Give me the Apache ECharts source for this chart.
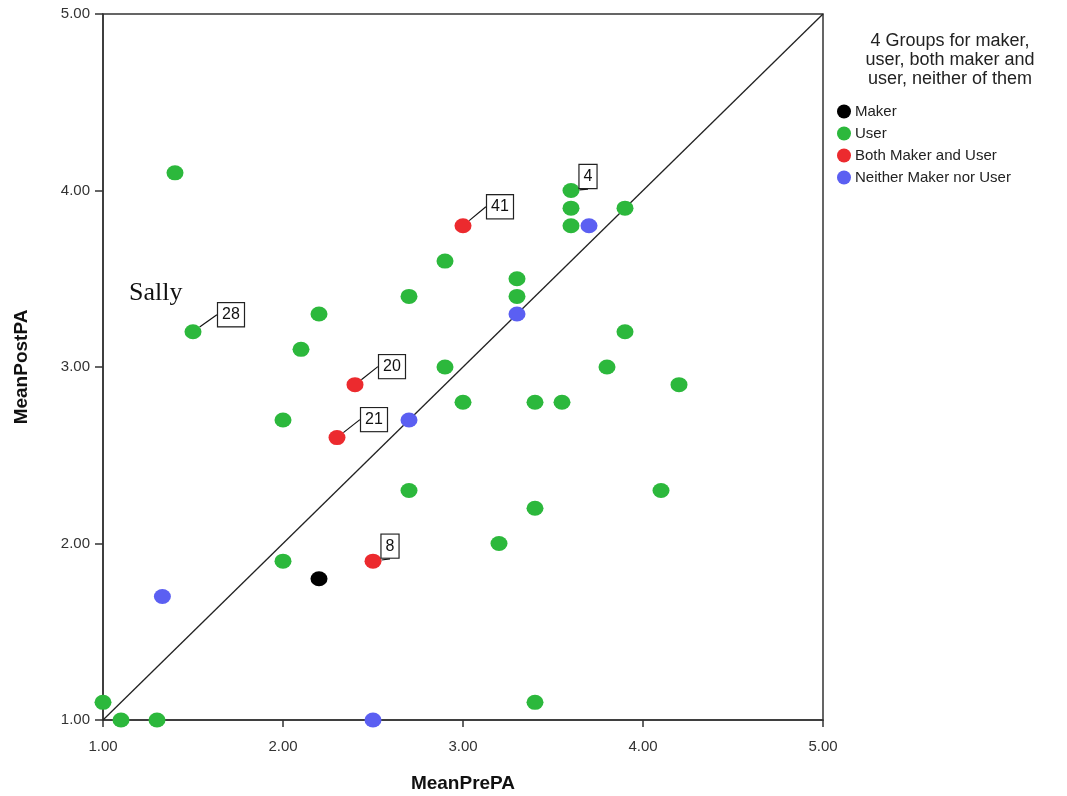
<!DOCTYPE html>
<html>
<head>
<meta charset="utf-8">
<script src="https://cdn.jsdelivr.net/npm/echarts@6/dist/echarts.min.js"></script>
<style>html,body{margin:0;padding:0;background:#fff}#c{width:1067px;height:796px}</style>
</head>
<body>
<div id="c"></div>
<script>
// ---- data (MeanPrePA, MeanPostPA) ----
const groupNames = ['Maker', 'User', 'Both Maker and User', 'Neither Maker nor User'];
const makerPoints = [[2.2, 1.8]];
const userPoints = [
  [1.0, 1.1], [1.1, 1.0], [1.3, 1.0], [1.4, 4.1], [1.5, 3.2], [2.0, 2.7], [2.0, 1.9],
  [2.1, 3.1], [2.2, 3.3], [2.7, 3.4], [2.7, 2.3], [2.9, 3.6], [2.9, 3.0], [3.0, 2.8],
  [3.2, 2.0], [3.3, 3.5], [3.3, 3.4], [3.4, 2.8], [3.4, 2.2], [3.4, 1.1], [3.55, 2.8],
  [3.6, 4.0], [3.6, 3.9], [3.6, 3.8], [3.8, 3.0], [3.9, 3.9], [3.9, 3.2], [4.1, 2.3], [4.2, 2.9]
];
const userCaseIds = {4: '28', 21: '4'};
const bothPoints = [[3.0, 3.8], [2.4, 2.9], [2.3, 2.6], [2.5, 1.9]];
const bothCaseIds = ['41', '20', '21', '8'];
const neitherPoints = [[3.7, 3.8], [3.3, 3.3], [2.7, 2.7], [1.33, 1.7], [2.5, 1.0]];
const refLine = [[1, 1], [5, 5]];
const axisTicks = [1, 2, 3, 4, 5];
const xTitle = 'MeanPrePA';
const yTitle = 'MeanPostPA';
const legendTitle = '4 Groups for maker,\nuser, both maker and\nuser, neither of them';
const annotation = 'Sally';

// ---- styling ----
const colors = ['#000000', '#2cb83c', '#ec2a2e', '#5b5ff2'];
const labelOffsets = {'28': [38, -17], '4': [17, -14], '41': [37, -19], '20': [37, -18], '21': [37, -18], '8': [17, -15]};
const boxLabel = {
  show: true, position: 'inside', color: '#111', fontSize: 16, fontFamily: 'Liberation Sans, Arial, sans-serif',
  backgroundColor: '#fff', borderColor: '#222', borderWidth: 1.2, padding: [4, 4, 3, 4]
};

function toData(points, ids) {
  return points.map((p, i) => {
    const id = ids[i];
    if (id) return {value: p, name: id, label: Object.assign({}, boxLabel, {formatter: id})};
    return {value: p, label: {show: false}};
  });
}

function layoutFn() {
  return function (params) {
    const off = labelOffsets[params.text];
    if (!off) return {};
    return {dx: off[0], dy: off[1]};
  };
}

const chart = echarts.init(document.getElementById('c'), null, {renderer: 'canvas'});
const symbolSize = [17, 15];
const scatterBase = (name, data, color, z) => ({
  name: name, type: 'scatter', data: data, symbol: 'circle', symbolSize: symbolSize,
  itemStyle: {color: color, opacity: 1}, z: z,
  labelLine: {show: true, lineStyle: {color: '#111', width: 1.2}},
  labelLayout: layoutFn(),
  emphasis: {disabled: true}
});

const option = {
  animation: false,
  backgroundColor: '#ffffff',
  textStyle: {fontFamily: 'Liberation Sans, Arial, sans-serif'},
  grid: {left: 103, top: 14, right: 244, bottom: 76, containLabel: false, outerBoundsMode: 'none',
    show: true, borderColor: '#333', borderWidth: 1.5, backgroundColor: 'transparent'},
  title: {
    text: legendTitle, left: 945, top: 27, textAlign: 'center',
    textStyle: {fontSize: 18, fontWeight: 'normal', color: '#222', lineHeight: 19, fontFamily: 'Liberation Sans, Arial, sans-serif'}
  },
  legend: {
    orient: 'vertical', left: 832, top: 99, itemWidth: 16, itemHeight: 14, itemGap: 7,
    icon: 'circle', data: groupNames,
    textStyle: {fontSize: 15, color: '#222', padding: [0, 0, 0, -2]}
  },
  graphic: [{
    type: 'text', left: 129, top: 280,
    style: {text: annotation, font: '26px "Liberation Serif", "Times New Roman", serif', fill: '#111'}
  }],
  xAxis: {
    type: 'value', min: axisTicks[0], max: axisTicks[axisTicks.length - 1], interval: 1,
    name: xTitle, nameLocation: 'middle', nameGap: 54,
    nameTextStyle: {fontSize: 19, fontWeight: 'bold', color: '#111'},
    axisLine: {show: true, onZero: false, lineStyle: {color: '#333', width: 1.5}},
    axisTick: {show: true, length: 7, lineStyle: {color: '#333', width: 1.5}},
    axisLabel: {fontSize: 15, color: '#333', margin: 19, formatter: v => v.toFixed(2)},
    splitLine: {show: false}
  },
  yAxis: {
    type: 'value', min: axisTicks[0], max: axisTicks[axisTicks.length - 1], interval: 1,
    name: yTitle, nameLocation: 'middle', nameGap: 72, nameRotate: 90,
    nameTextStyle: {fontSize: 19, fontWeight: 'bold', color: '#111'},
    axisLine: {show: true, onZero: false, lineStyle: {color: '#333', width: 1.5}},
    axisTick: {show: true, length: 8, lineStyle: {color: '#333', width: 1.5}},
    axisLabel: {fontSize: 15, color: '#333', margin: 13, formatter: v => v.toFixed(2)},
    splitLine: {show: false}
  },
  series: [
    {
      name: 'ref', type: 'line', data: refLine, symbol: 'none', silent: true, z: 1,
      lineStyle: {color: '#222', width: 1.3}
    },
    scatterBase(groupNames[0], toData(makerPoints, []), colors[0], 3),
    scatterBase(groupNames[1], toData(userPoints, userCaseIds), colors[1], 3),
    scatterBase(groupNames[2], toData(bothPoints, bothCaseIds), colors[2], 4),
    scatterBase(groupNames[3], toData(neitherPoints, []), colors[3], 3)
  ]
};
chart.setOption(option);
</script>
</body>
</html>
